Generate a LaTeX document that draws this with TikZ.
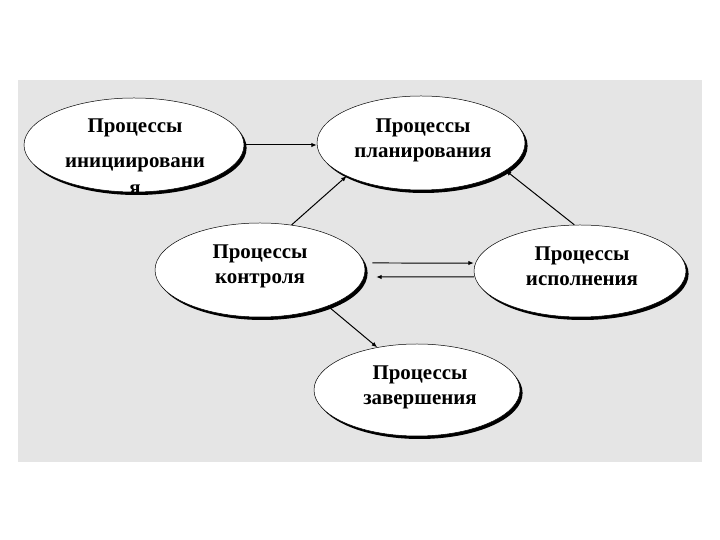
\documentclass[tikz,border=0pt]{standalone}
\usepackage{fontspec}
\setmainfont{Liberation Serif}
\usetikzlibrary{shapes.geometric,arrows.meta,shadows}
\definecolor{bggray}{HTML}{E5E5E5}
\begin{document}
\begin{tikzpicture}[x=1bp,y=1bp,
  proc/.style={ellipse, draw=black, line width=0.5pt, fill=white, inner sep=0pt,
    drop shadow={shadow xshift=2.6bp, shadow yshift=-3bp, fill=black, opacity=1}},
  lbl/.style={align=center, font=\bfseries\fontsize{21}{25}\selectfont, inner sep=0pt},
  conn/.style={line width=1pt, -{Latex[length=5.5pt,width=4.5pt]}}]
\useasboundingbox (0,0) rectangle (720,540);
\fill[bggray] (18,78) rectangle (702,460);
% ellipses (y = 540 - pixel row)
\node[proc, minimum width=220bp, minimum height=94bp] (init) at (134,395) {};
\node[proc, minimum width=208bp, minimum height=94bp] (plan) at (421,397) {};
\node[proc, minimum width=210bp, minimum height=94bp] (ctrl) at (260,270) {};
\node[proc, minimum width=212bp, minimum height=92bp] (exec) at (580,269) {};
\node[proc, minimum width=206bp, minimum height=92bp] (compl) at (417,150) {};
% texts
\node[lbl] (tinit1) at (135,412) {Процессы};
\node[lbl] (tinit2) at (135,375) {инициировани};
\node[lbl] (tinit3) at (135,350) {я};
\node[lbl] (tplan) at (423,400) {Процессы\\планирования};
\node[lbl] (tctrl) at (260,274) {Процессы\\контроля};
\node[lbl] (texec) at (582,274) {Процессы\\исполнения};
\node[lbl] (tcompl) at (420,153) {Процессы\\завершения};
% connectors
\draw[conn] (init.east) -- (init.east -| plan.west);
\draw[conn] (ctrl.55.7) -- (plan.204.2);
\draw[conn] (exec.97.8) -- (plan.342.4);
\draw[conn] ([shift={(7,7)}]ctrl.east) -- ([yshift=8]exec.west);
\draw[conn] ([yshift=-6]exec.west) -- ([shift={(11,-7)}]ctrl.east);
\draw[conn] (ctrl.332.5) -- (compl.133);
\end{tikzpicture}
\end{document}
